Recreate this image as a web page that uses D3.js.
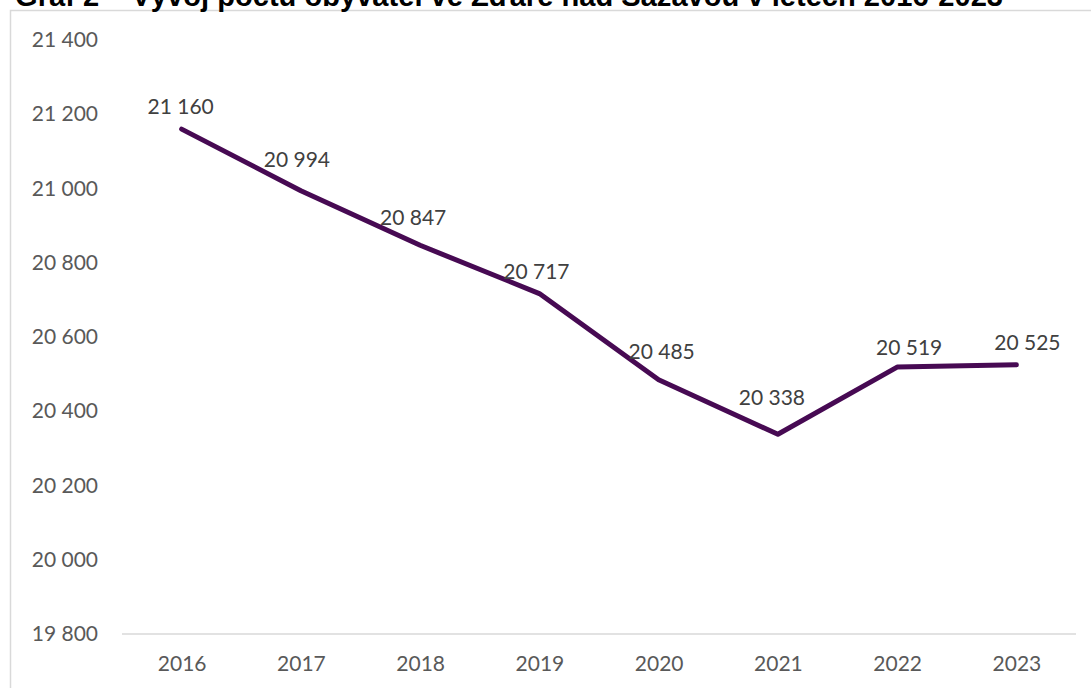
<!DOCTYPE html>
<html>
<head>
<meta charset="utf-8">
<script src="https://cdn.jsdelivr.net/npm/d3@7"></script>
<style>
  html, body { margin: 0; padding: 0; background: #fff; overflow: hidden; }
</style>
</head>
<body>
<div id="container"></div>
<script>
// Data.
const years = ['2016', '2017', '2018', '2019', '2020', '2021', '2022', '2023'];
const population = [21160, 20994, 20847, 20717, 20485, 20338, 20519, 20525];
const yTicks = [19800, 20000, 20200, 20400, 20600, 20800, 21000, 21200, 21400];
const title = 'Graf 2 – Vývoj počtu obyvatel ve Žďáře nad Sázavou v letech 2016-2023';

// Hand-placed label nudges (as in the original chart).
const labelNudge = [[-1, -22], [-4, -31], [-7, -28], [-3, -22], [3, -28], [-6, -37], [12, -19], [11, -22]];

const width = 1091, height = 688;
const plot = { left: 122, right: 1076, top: 40, bottom: 634 };

const svg = d3
  .select('#container')
  .append('svg')
  .attr('width', width)
  .attr('height', height);

// Chart frame (clipped by the page on right and bottom).
svg
  .append('rect')
  .attr('x', 10.5)
  .attr('y', 10.5)
  .attr('width', 1100)
  .attr('height', 700)
  .attr('fill', 'none')
  .attr('stroke', '#d9d9d9')
  .attr('stroke-width', 1.5);

// Title, mostly cut off at the top.
svg
  .append('text')
  .attr('x', 15)
  .attr('y', 6)
  .attr('textLength', 988)
  .attr('lengthAdjust', 'spacingAndGlyphs')
  .attr('font-family', '"Liberation Sans", Arial, sans-serif')
  .attr('font-weight', 'bold')
  .attr('font-size', 29)
  .attr('fill', '#000')
  .text(title);

// Scales.
const x = d3.scalePoint().domain(years).range([plot.left, plot.right]).padding(0.5);
const y = d3.scaleLinear().domain([19800, 21400]).range([plot.bottom, plot.top]);

const cz = d3.formatLocale({ decimal: ',', thousands: '\u00a0', grouping: [3], currency: ['', ''] });
const fmt = cz.format(',d');

// Y axis labels.
const yAxis = svg
  .append('g')
  .attr('transform', 'translate(98,0)')
  .call(d3.axisLeft(y).tickValues(yTicks).tickFormat(fmt).tickSize(0).tickPadding(0));
yAxis.select('.domain').remove();
yAxis
  .selectAll('text')
  .attr('font-family', 'Lato, "Open Sans", sans-serif')
  .attr('font-size', 21)
  .attr('fill', '#595959');

// X axis: baseline and year labels.
const xAxis = svg
  .append('g')
  .attr('transform', `translate(0,${plot.bottom})`)
  .call(d3.axisBottom(x).tickSize(0).tickPadding(22));
xAxis
  .select('.domain')
  .attr('stroke', '#d9d9d9')
  .attr('stroke-width', 1.5)
  .attr('d', `M${plot.left},0H${plot.right}`);
xAxis
  .selectAll('text')
  .attr('font-family', 'Lato, "Open Sans", sans-serif')
  .attr('font-size', 21)
  .attr('fill', '#595959');

// Line.
const line = d3
  .line()
  .x((d, i) => x(years[i]))
  .y(d => y(d));

svg
  .append('path')
  .datum(population)
  .attr('d', line)
  .attr('fill', 'none')
  .attr('stroke', '#470a53')
  .attr('stroke-width', 5)
  .attr('stroke-linecap', 'round')
  .attr('stroke-linejoin', 'round');

// Data labels.
svg
  .append('g')
  .selectAll('text')
  .data(population)
  .join('text')
  .attr('x', (d, i) => x(years[i]) + labelNudge[i][0])
  .attr('y', (d, i) => y(d) + labelNudge[i][1])
  .attr('dy', '0.35em')
  .attr('text-anchor', 'middle')
  .attr('font-family', 'Lato, "Open Sans", sans-serif')
  .attr('font-size', 21)
  .attr('fill', '#404040')
  .text(d => fmt(d));
</script>
</body>
</html>
